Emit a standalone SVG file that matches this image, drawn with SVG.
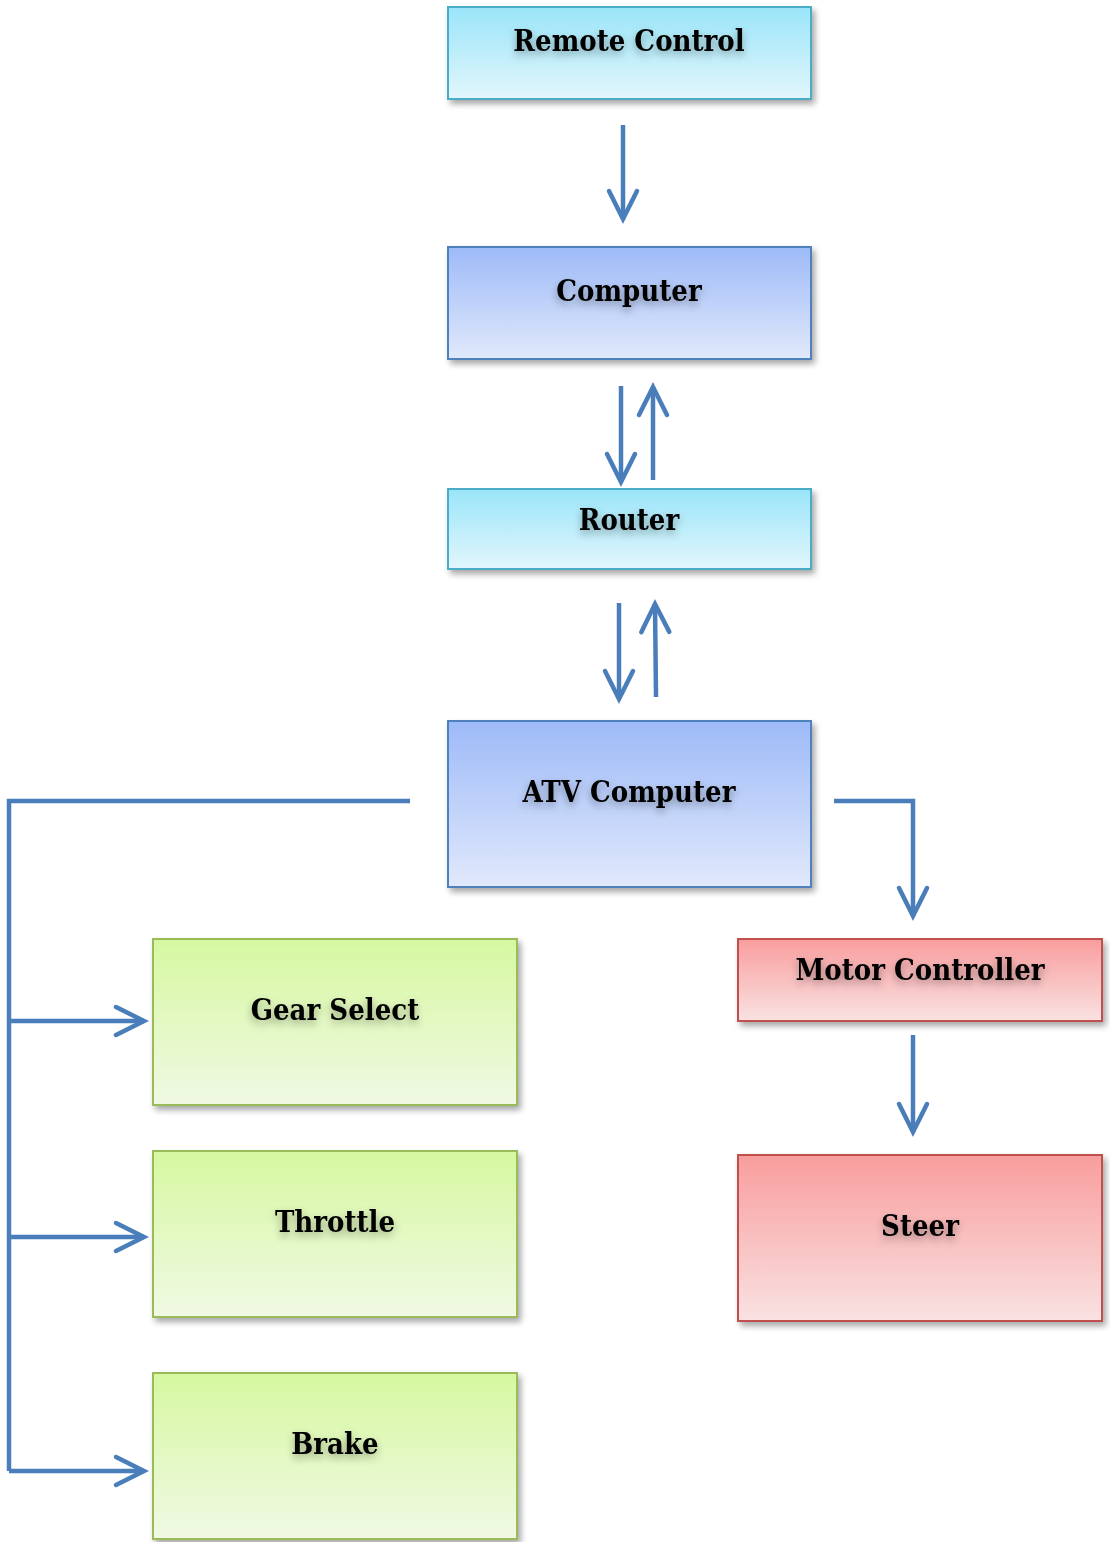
<svg xmlns="http://www.w3.org/2000/svg" width="1110" height="1542" viewBox="0 0 1110 1542">
<style>
.lbl{font-family:"DejaVu Serif","Liberation Serif",serif;font-stretch:condensed;font-weight:bold;font-size:29px;fill:#000;text-anchor:middle;filter:url(#tglow)}
.box{stroke-width:2}
.cy{fill:url(#gCy);stroke:#4bacc6}
.bl{fill:url(#gBl);stroke:#4f81bd}
.gr{fill:url(#gGr);stroke:#9bbb59}
.rd{fill:url(#gRd);stroke:#c0504d}
.con{fill:none;stroke:#4a7ebb;stroke-width:4.5;stroke-linejoin:miter}
</style>
<defs>
<linearGradient id="gCy" x1="0" y1="0" x2="0" y2="1"><stop offset="0" stop-color="#9ae5f9"/><stop offset="1" stop-color="#e2f6fc"/></linearGradient>
<linearGradient id="gBl" x1="0" y1="0" x2="0" y2="1"><stop offset="0" stop-color="#9dbaf8"/><stop offset="1" stop-color="#e1e9fb"/></linearGradient>
<linearGradient id="gGr" x1="0" y1="0" x2="0" y2="1"><stop offset="0" stop-color="#d6f8a0"/><stop offset="1" stop-color="#f0f9e4"/></linearGradient>
<linearGradient id="gRd" x1="0" y1="0" x2="0" y2="1"><stop offset="0" stop-color="#f99d9d"/><stop offset="1" stop-color="#f9e2e2"/></linearGradient>
<filter id="shadow" x="-5%" y="-5%" width="115%" height="125%">
<feGaussianBlur in="SourceAlpha" stdDeviation="3"/>
<feOffset dx="3" dy="4" result="b"/>
<feComponentTransfer><feFuncA type="linear" slope="0.35"/></feComponentTransfer>
<feMerge><feMergeNode/><feMergeNode in="SourceGraphic"/></feMerge>
</filter>
<filter id="tglow" x="-20%" y="-50%" width="140%" height="220%">
<feGaussianBlur in="SourceAlpha" stdDeviation="4"/>
<feOffset dx="0" dy="4"/>
<feComponentTransfer><feFuncA type="linear" slope="0.35"/></feComponentTransfer>
<feMerge><feMergeNode/><feMergeNode in="SourceGraphic"/></feMerge>
</filter>
<marker id="arr" markerUnits="userSpaceOnUse" markerWidth="40" markerHeight="40" viewBox="-32 -20 40 40" refX="0" refY="0" orient="auto">
<path d="M-28,-14 L0,0 L-28,14" fill="none" stroke="#4a7ebb" stroke-width="4.5" stroke-linecap="round" stroke-linejoin="miter"/>
</marker>
</defs>

<g id="connectors">
<path class="con" d="M623,125 V219" marker-end="url(#arr)"/>
<path class="con" d="M621,386 V482" marker-end="url(#arr)"/>
<path class="con" d="M653,480 V387" marker-end="url(#arr)"/>
<path class="con" d="M619,603 V699" marker-end="url(#arr)"/>
<path class="con" d="M656,697 L655,604" marker-end="url(#arr)"/>
<path class="con" d="M410,801 H9 V1471"/>
<path class="con" d="M9,1021 H144" marker-end="url(#arr)"/>
<path class="con" d="M9,1237 H144" marker-end="url(#arr)"/>
<path class="con" d="M9,1471 H144" marker-end="url(#arr)"/>
<path class="con" d="M834,801 H913 V916" marker-end="url(#arr)"/>
<path class="con" d="M913,1035 V1132" marker-end="url(#arr)"/>
</g>

<g id="remote-control">
<rect class="box cy" x="448" y="7" width="363" height="92" filter="url(#shadow)"/>
<text class="lbl" x="629" y="51">Remote Control</text>
</g>
<g id="computer">
<rect class="box bl" x="448" y="247" width="363" height="112" filter="url(#shadow)"/>
<text class="lbl" x="629" y="301">Computer</text>
</g>
<g id="router">
<rect class="box cy" x="448" y="489" width="363" height="80" filter="url(#shadow)"/>
<text class="lbl" x="629" y="530">Router</text>
</g>
<g id="atv-computer">
<rect class="box bl" x="448" y="721" width="363" height="166" filter="url(#shadow)"/>
<text class="lbl" x="629" y="802">ATV Computer</text>
</g>
<g id="gear-select">
<rect class="box gr" x="153" y="939" width="364" height="166" filter="url(#shadow)"/>
<text class="lbl" x="335" y="1020">Gear Select</text>
</g>
<g id="throttle">
<rect class="box gr" x="153" y="1151" width="364" height="166" filter="url(#shadow)"/>
<text class="lbl" x="335" y="1232">Throttle</text>
</g>
<g id="brake">
<rect class="box gr" x="153" y="1373" width="364" height="166" filter="url(#shadow)"/>
<text class="lbl" x="335" y="1454">Brake</text>
</g>
<g id="motor-controller">
<rect class="box rd" x="738" y="939" width="364" height="82" filter="url(#shadow)"/>
<text class="lbl" x="920" y="980">Motor Controller</text>
</g>
<g id="steer">
<rect class="box rd" x="738" y="1155" width="364" height="166" filter="url(#shadow)"/>
<text class="lbl" x="920" y="1236">Steer</text>
</g>
</svg>
